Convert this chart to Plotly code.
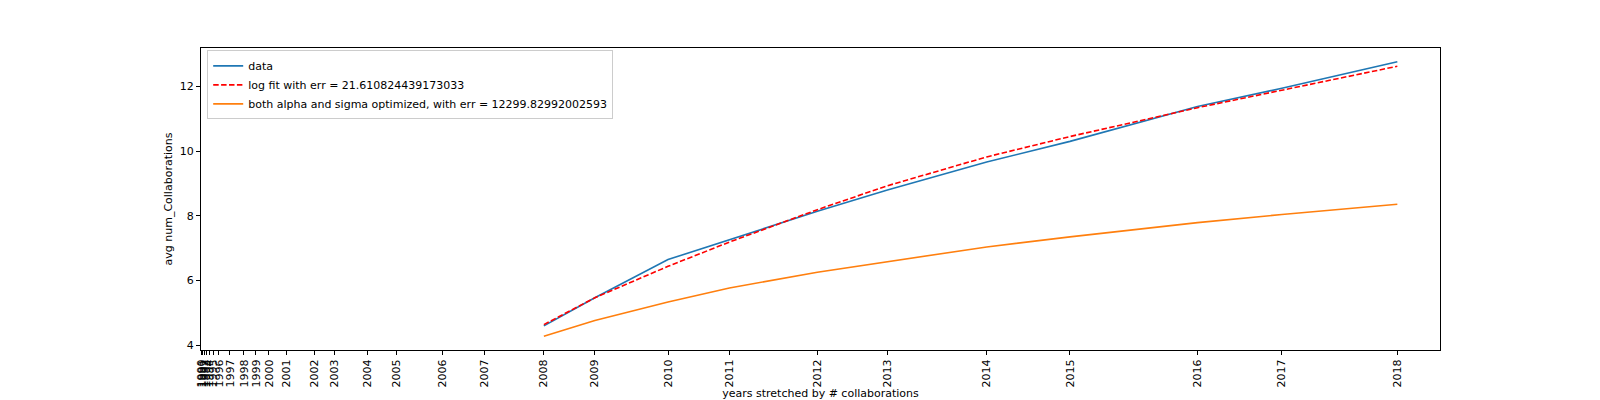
import plotly.graph_objects as go

# years, placed at the cumulative number of collaborations
years = list(range(1990, 2019))
cum_collabs = [0, 15, 30, 50, 80, 120, 180, 290, 430, 550, 680, 855, 1133, 1333,
               1667, 1957, 2413, 2833, 3430, 3940, 4672, 5286, 6166, 6867, 7860,
               8693, 9969, 10813, 11968]

# only 2008..2018 have values
data_years = list(range(2008, 2019))
avg_collabs = [4.60, 5.47, 6.65, 7.26, 8.14, 8.80, 9.66, 10.30, 11.38, 11.94, 12.76]
log_fit = [4.64, 5.47, 6.44, 7.19, 8.19, 8.93, 9.82, 10.45, 11.34, 11.89, 12.62]
alpha_sigma_fit = [4.28, 4.77, 5.34, 5.77, 6.26, 6.59, 7.04, 7.35, 7.79, 8.04, 8.36]

x_data = [cum_collabs[years.index(y)] for y in data_years]

fig = go.Figure()
fig.add_trace(go.Scatter(x=x_data, y=avg_collabs, mode='lines', name='data',
                         line=dict(color='#1f77b4', width=1.6)))
fig.add_trace(go.Scatter(x=x_data, y=log_fit, mode='lines',
                         name='log fit with err = 21.610824439173033',
                         line=dict(color='#ff0000', width=1.6, dash='5.5px,2.4px')))
fig.add_trace(go.Scatter(x=x_data, y=alpha_sigma_fit, mode='lines',
                         name='both alpha and sigma optimized, with err = 12299.82992002593',
                         line=dict(color='#ff7f0e', width=1.6)))

# matplotlib-like limits: 5% margins on data, x extended to the first tick
xspan = x_data[-1] - x_data[0]
allv = avg_collabs + log_fit + alpha_sigma_fit
yspan = max(allv) - min(allv)

axis_style = dict(showline=True, linecolor='black', linewidth=1, mirror=True,
                  ticks='outside', ticklen=4, tickcolor='black', showgrid=False,
                  zeroline=False, automargin=False,
                  tickfont=dict(size=11, color='black'))

# page body has an 8px margin, so the figure is a bit smaller than the window
fig.update_layout(
    width=1592, height=392,
    margin=dict(l=193, r=160, t=40, b=50),
    plot_bgcolor='white', paper_bgcolor='white',
    font=dict(family='DejaVu Sans', size=11, color='black'),
    showlegend=True,
    legend=dict(x=0.005, y=0.992, xanchor='left', yanchor='top',
                bgcolor='rgba(255,255,255,0.8)', bordercolor='#cccccc',
                borderwidth=1, font=dict(size=11), itemwidth=30,
                tracegroupgap=0),
    xaxis=dict(axis_style, range=[0, x_data[-1] + 0.05 * xspan],
               tickmode='array', tickvals=cum_collabs,
               ticktext=[str(y) for y in years], tickangle=-90,
               title=dict(text='years stretched by # collaborations',
                          font=dict(size=11), standoff=2)),
    yaxis=dict(axis_style,
               range=[min(allv) - 0.05 * yspan, max(allv) + 0.05 * yspan],
               tickvals=[4, 6, 8, 10, 12],
               title=dict(text='avg num_Collaborations',
                          font=dict(size=11), standoff=4)),
)

fig.write_html("out.html")
